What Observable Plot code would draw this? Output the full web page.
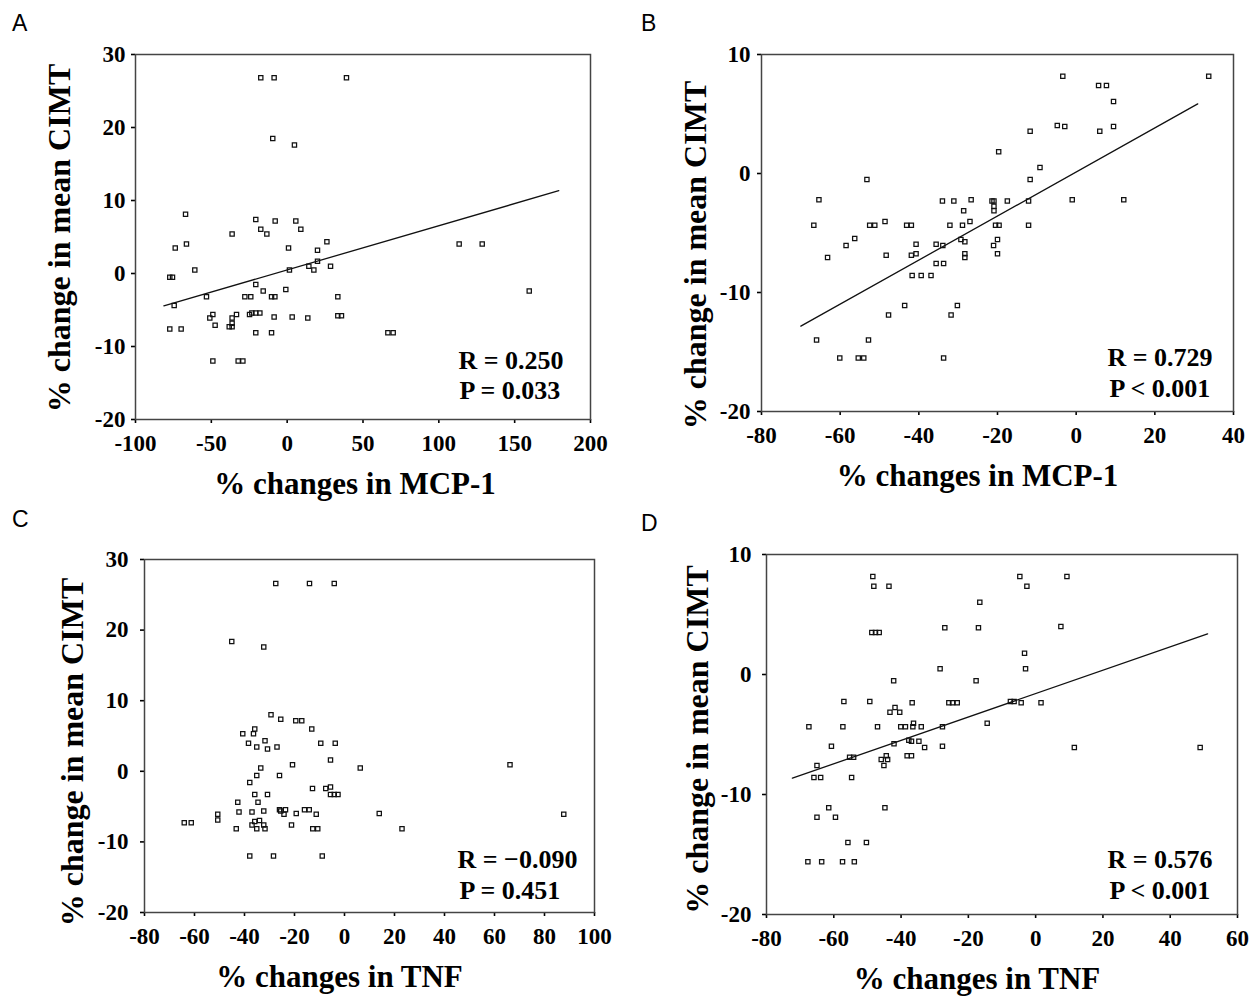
<!DOCTYPE html>
<html><head><meta charset="utf-8">
<script src="https://cdn.jsdelivr.net/npm/d3@7"></script>
<script src="https://cdn.jsdelivr.net/npm/@observablehq/plot@0.6"></script>
<style>
body{margin:0;background:#fff;}
#wrap{position:relative;width:1257px;height:997px;overflow:hidden;background:#fff;}
.tag{position:absolute;font-family:'Liberation Sans',Arial,sans-serif;font-size:23px;line-height:23px;color:#000;}
</style></head><body><div id="wrap"></div>
<script>
// ---- Data ----
const yLabel = "% change in mean CIMT";
const xLabelMCP = "% changes in MCP-1";
const xLabelTNF = "% changes in TNF";

// Panel A: MCP-1 (all)
const aX = [-17.4,-8.6,39.1,-9.5,4.8,-67.0,-20.7,-7.9,5.7,-17.4,-13.4,9.0,-36.3,26.2,-73.8,-66.4,0.9,20.0,-60.9,1.5,14.3,17.6,20.0,28.6,-77.4,-75.6,-74.5,-53.2,-20.7,-15.8,-0.9,-27.9,-24.0,-10.3,-8.1,33.4,-49.0,-51.0,-47.5,-36.3,-33.4,-38.2,-36.3,-36.3,-24.8,-23.3,-20.7,-18.0,-8.6,3.3,13.6,33.4,35.8,113.4,128.6,159.6,-77.4,-69.9,-20.7,-10.3,66.4,69.9,-49.0,-32.3,-29.2];
const aY = [26.8,26.8,26.8,18.5,17.6,8.1,7.4,7.2,7.2,6.05,5.4,6.05,5.4,4.36,3.5,4.04,3.5,3.18,0.48,0.48,0.98,0.48,1.67,0.98,-0.52,-0.52,-4.4,-3.2,-1.5,-2.4,-2.2,-3.2,-3.2,-3.2,-3.2,-3.2,-5.6,-6.1,-7.1,-6.1,-5.6,-7.3,-6.8,-7.3,-5.6,-5.4,-5.4,-5.4,-5.95,-5.95,-6.1,-5.8,-5.8,4.04,4.04,-2.4,-7.6,-7.6,-8.1,-8.1,-8.1,-8.1,-12.0,-12.0,-12.0];
const aFitX = [-81.3, 179.1];
const aFitY = [-4.44, 11.34];
const aXTicks = [-100,-50,0,50,100,150,200];
const aYTicks = [-20,-10,0,10,20,30];
const aStats = ["R = 0.250", "P = 0.033"];

// Panel B: MCP-1 (subset)
const bX = [-3.4,33.7,5.7,7.7,9.5,-4.8,-2.9,-11.7,6.0,9.5,-19.7,-9.2,-53.2,-11.7,-65.4,-34.0,-31.1,-26.7,-21.4,-20.9,-17.5,-12.1,-1.0,12.1,-20.9,-20.9,-28.6,-66.7,-52.5,-51.2,-48.6,-43.1,-41.9,-32.1,-28.9,-27.0,-20.5,-19.6,-12.1,-56.3,-58.5,-29.3,-28.3,-20.0,-40.7,-35.6,-33.9,-21.0,-63.2,-48.3,-41.9,-40.7,-28.3,-28.3,-20.0,-35.6,-33.7,-41.7,-39.4,-36.9,-43.6,-30.2,-47.7,-31.8,-66.0,-52.8,-60.1,-55.4,-54.0,-33.7];
const bY = [8.18,8.18,7.4,7.4,6.05,4.03,3.95,3.56,3.56,3.95,1.82,0.5,-0.5,-0.5,-2.21,-2.32,-2.32,-2.21,-2.32,-2.32,-2.32,-2.32,-2.21,-2.21,-2.75,-3.14,-3.14,-4.34,-4.34,-4.34,-4.03,-4.34,-4.34,-4.34,-4.34,-4.03,-4.34,-4.34,-4.34,-5.46,-6.05,-5.55,-5.74,-5.55,-5.94,-5.94,-6.05,-6.05,-7.06,-6.86,-6.86,-6.75,-6.75,-7.06,-6.75,-7.56,-7.56,-8.57,-8.57,-8.57,-11.1,-11.1,-11.9,-11.9,-14.0,-14.0,-15.5,-15.5,-15.5,-15.5];
const bFitX = [-70.0, 30.9];
const bFitY = [-12.83, 5.85];
const bXTicks = [-80,-60,-40,-20,0,20,40];
const bYTicks = [-20,-10,0,10];
const bStats = ["R = 0.729", "P < 0.001"];

// Panel C: TNF (all)
const cX = [-27.5,-14.0,-4.1,-45.1,-32.3,-29.4,-25.5,-19.5,-17.1,-35.9,-36.4,-40.7,-13.1,-38.4,-31.8,-35.1,-30.8,-27.0,-9.5,-3.7,-5.6,-20.8,6.3,66.2,-33.5,-35.1,-26.0,-37.9,-12.8,-7.5,-5.6,-5.6,-4.1,-2.6,-35.9,-30.8,-42.7,-34.6,-50.7,-50.7,-42.2,-37.0,-32.3,-26.0,-25.5,-23.6,-24.2,-19.3,-16.0,-14.1,-11.3,13.9,87.7,-64.1,-61.3,-37.0,-35.9,-34.0,-32.3,-43.3,-35.1,-31.8,-21.2,-12.7,-10.7,23.0,-37.9,-28.4,-8.9];
const cY = [26.6,26.6,26.6,18.4,17.6,8.0,7.36,7.17,7.17,6.0,5.33,5.33,6.0,3.96,4.34,3.44,3.16,3.44,3.96,3.96,1.6,0.94,0.46,0.94,0.46,-0.58,-0.58,-1.57,-2.42,-2.42,-2.23,-3.27,-3.27,-3.27,-3.27,-3.27,-4.4,-4.4,-6.1,-6.9,-5.77,-5.77,-5.63,-5.44,-5.63,-5.44,-6.1,-5.96,-5.44,-5.44,-6.1,-5.96,-6.1,-7.3,-7.3,-7.6,-7.1,-6.96,-7.6,-8.14,-8.14,-8.14,-7.6,-8.14,-8.14,-8.14,-12.0,-12.0,-12.0];
const cXTicks = [-80,-60,-40,-20,0,20,40,60,80,100];
const cYTicks = [-20,-10,0,10,20,30];
const cStats = ["R = \u22120.090", "P = 0.451"];

// Panel D: TNF (subset)
const dX = [-48.4,-48.1,-43.6,-4.7,-2.6,9.3,-16.6,-27.0,-17.0,7.5,-48.7,-47.6,-46.5,-3.3,-3.0,-28.4,-42.2,-17.7,-57.0,-49.3,-36.7,-25.8,-24.7,-23.3,-7.5,-6.4,-4.3,1.6,-41.8,-43.3,-40.4,-67.4,-57.3,-47.0,-40.1,-38.7,-36.3,-36.5,-34.0,-27.7,-14.4,-60.7,-42.1,-37.7,-36.9,-34.7,-33.0,-27.7,11.5,48.9,-55.3,-54.1,-38.2,-36.9,-45.9,-44.4,-44.0,-45.1,-65.0,-65.9,-63.9,-54.7,-61.5,-44.8,-65.0,-59.5,-55.8,-50.3,-67.7,-63.6,-57.4,-53.9];
const dY = [8.17,7.36,7.36,8.17,7.36,8.17,6.03,3.89,3.89,4.0,3.5,3.5,3.5,1.78,0.47,0.47,-0.53,-0.53,-2.25,-2.25,-2.36,-2.36,-2.36,-2.36,-2.25,-2.25,-2.36,-2.36,-2.75,-3.14,-3.14,-4.36,-4.36,-4.36,-4.36,-4.36,-4.06,-4.36,-4.36,-4.36,-4.06,-5.97,-5.78,-5.47,-5.56,-5.56,-6.08,-5.97,-6.08,-6.08,-6.89,-6.89,-6.78,-6.78,-7.08,-6.78,-7.08,-7.58,-7.58,-8.58,-8.58,-8.58,-11.1,-11.1,-11.9,-11.9,-14.0,-14.0,-15.6,-15.6,-15.6,-15.6];
const dFitX = [-72.3, 51.1];
const dFitY = [-8.64, 3.39];
const dXTicks = [-80,-60,-40,-20,0,20,40,60];
const dYTicks = [-20,-10,0,10];
const dStats = ["R = 0.576", "P < 0.001"];

const panelTags = ["A","B","C","D"];

// ---- Drawing ----
const wrap = document.getElementById("wrap");
const ML = 100, MT = 20, MR = 16, MB = 85;

function panel(cfg) {
  const [L, R, T, B] = cfg.frame;
  const fw = R - L, fh = B - T;
  const marks = [
    Plot.axisX({ticks: cfg.xTicks, tickFormat: d => String(d), tickSize: 4, tickPadding: 11, label: null, strokeWidth: 1.6}),
    Plot.axisY({ticks: cfg.yTicks, tickFormat: d => String(d), tickSize: 4, tickPadding: cfg.yPad, label: null, strokeWidth: 1.6}),
    Plot.frame({stroke: "#444", strokeWidth: 1.5})
  ];
  if (cfg.fitX) marks.push(Plot.line(cfg.fitX, {x: cfg.fitX, y: cfg.fitY, stroke: "#111", strokeWidth: 1.3}));
  marks.push(Plot.dot(cfg.xs, {x: cfg.xs, y: cfg.ys, symbol: "square", r: 2.4, stroke: "#111", strokeWidth: 1.25, fill: "none"}));
  marks.push(Plot.text([cfg.xLabel], {text: d => d, frameAnchor: "bottom", textAnchor: "middle", dx: cfg.xLabelDx, dy: 74, lineAnchor: "bottom", fontSize: 31}));
  marks.push(Plot.text([yLabel], {text: d => d, frameAnchor: "left", textAnchor: "middle", rotate: -90, dx: cfg.yLabelDx, dy: cfg.yLabelDy, lineAnchor: "bottom", fontSize: 32}));
  marks.push(Plot.text([cfg.stats[0]], {text: d => d, frameAnchor: "bottom-right", textAnchor: "start", lineAnchor: "bottom", dx: cfg.statDx[0], dy: cfg.statDy[0], fontSize: 26}));
  marks.push(Plot.text([cfg.stats[1]], {text: d => d, frameAnchor: "bottom-right", textAnchor: "start", lineAnchor: "bottom", dx: cfg.statDx[1], dy: cfg.statDy[1], fontSize: 26}));
  const svg = Plot.plot({
    width: fw + ML + MR,
    height: fh + MT + MB,
    marginLeft: ML, marginRight: MR, marginTop: MT, marginBottom: MB,
    x: {domain: [cfg.xTicks[0], cfg.xTicks[cfg.xTicks.length - 1]]},
    y: {domain: [cfg.yTicks[0], cfg.yTicks[cfg.yTicks.length - 1]]},
    style: {fontFamily: "'Liberation Serif','Times New Roman',serif", fontWeight: "bold", fontSize: "23px", color: "#000", background: "transparent", overflow: "visible"},
    marks
  });
  svg.style.position = "absolute";
  svg.style.left = (L - ML) + "px";
  svg.style.top = (T - MT) + "px";
  wrap.appendChild(svg);
}

panel({frame: [135, 590, 54, 419], xs: aX, ys: aY, fitX: aFitX, fitY: aFitY, xTicks: aXTicks, yTicks: aYTicks, yPad: 6,
  xLabel: xLabelMCP, xLabelDx: -8, yLabelDx: -66, yLabelDy: 1, stats: aStats, statDx: [-132, -131], statDy: [-51, -21]});
panel({frame: [761, 1233, 54, 411], xs: bX, ys: bY, fitX: bFitX, fitY: bFitY, xTicks: bXTicks, yTicks: bYTicks, yPad: 7,
  xLabel: xLabelMCP, xLabelDx: -20, yLabelDx: -56, yLabelDy: 22, stats: bStats, statDx: [-126, -124], statDy: [-46, -15]});
panel({frame: [144, 594, 559, 912], xs: cX, ys: cY, fitX: null, xTicks: cXTicks, yTicks: cYTicks, yPad: 12,
  xLabel: xLabelTNF, xLabelDx: -30, yLabelDx: -62, yLabelDy: 16, stats: cStats, statDx: [-137, -135], statDy: [-45, -14]});
panel({frame: [766, 1237, 554, 914], xs: dX, ys: dY, fitX: dFitX, fitY: dFitY, xTicks: dXTicks, yTicks: dYTicks, yPad: 11,
  xLabel: xLabelTNF, xLabelDx: -25, yLabelDx: -59, yLabelDy: 5, stats: dStats, statDx: [-130, -128], statDy: [-47, -16]});

const tagPos = [[12, 12], [641, 12], [12, 508], [641, 512]];
panelTags.forEach((t, i) => {
  const el = document.createElement("div");
  el.className = "tag";
  el.textContent = t;
  el.style.left = tagPos[i][0] + "px";
  el.style.top = tagPos[i][1] + "px";
  wrap.appendChild(el);
});
</script></body></html>
